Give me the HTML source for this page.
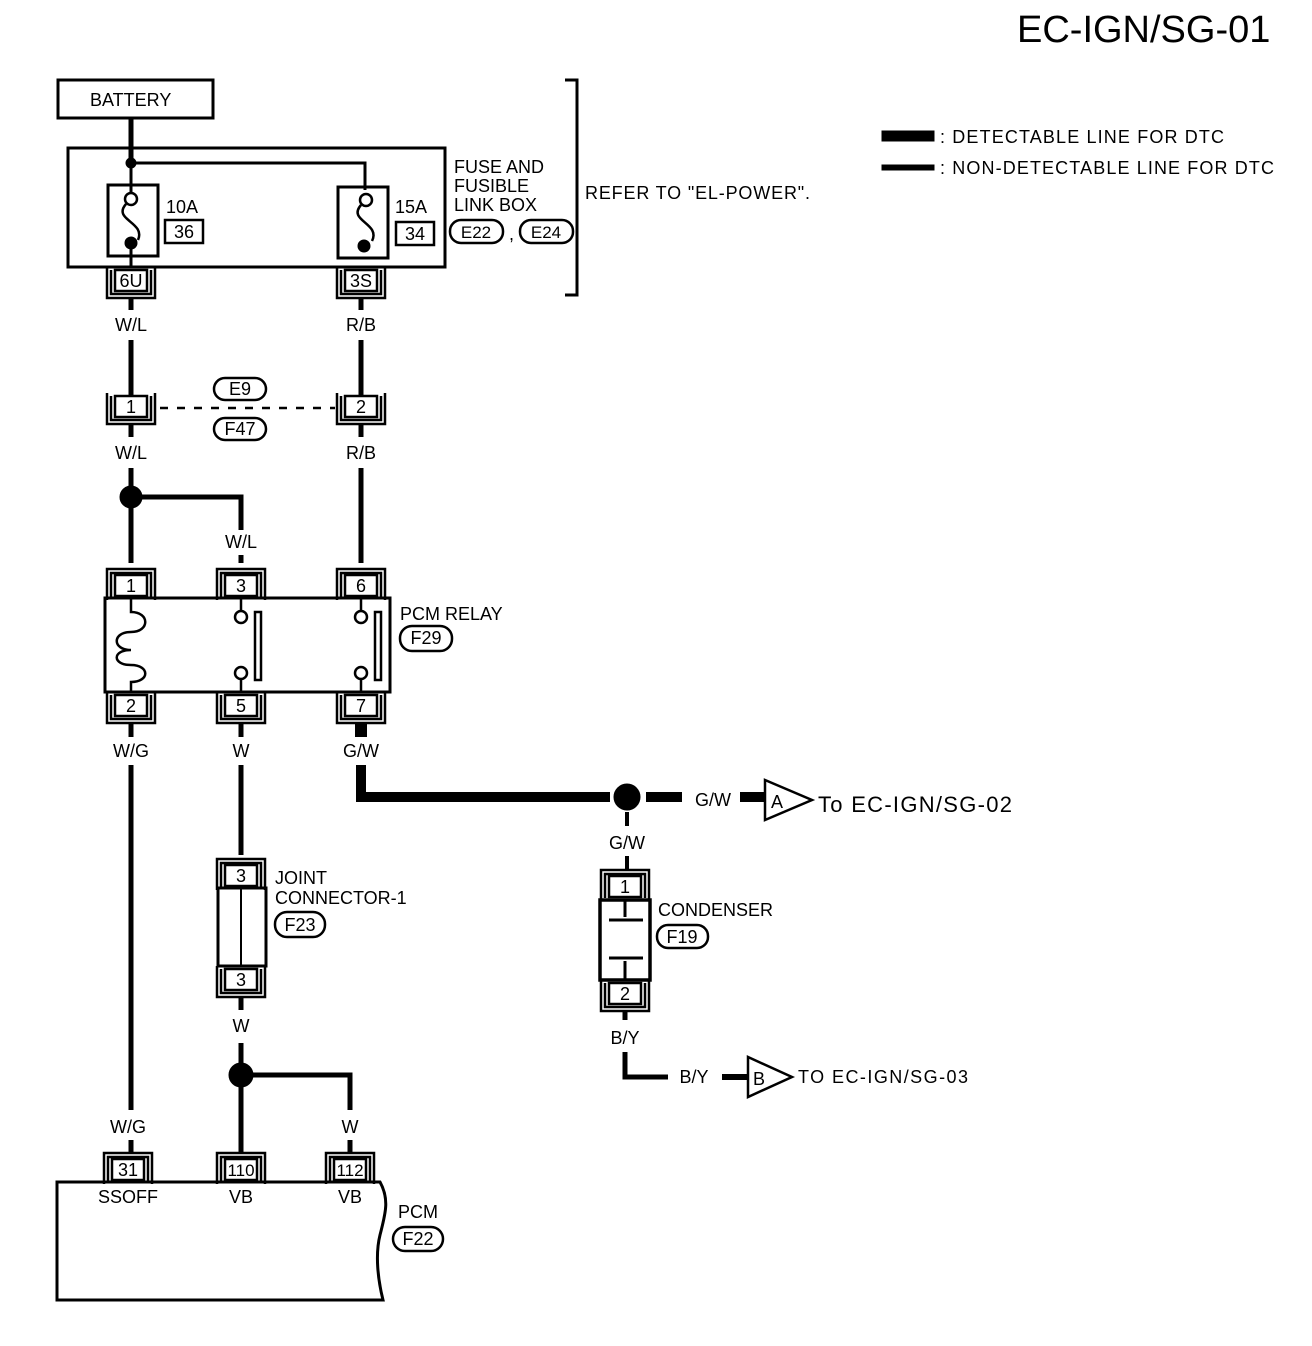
<!DOCTYPE html>
<html><head><meta charset="utf-8"><style>
html,body{margin:0;padding:0;background:#fff}
svg{display:block}
text{font-family:"Liberation Sans",sans-serif;fill:#000}
</style></head><body>
<svg width="1312" height="1346" viewBox="0 0 1312 1346" xmlns="http://www.w3.org/2000/svg">
<defs>
<g id="cd"><path d="M-24,-3V28H24V-3M-20,0V24H20V0" fill="none" stroke="#000" stroke-width="2.5"/><rect x="-16" y="0" width="32" height="21" fill="#fff" stroke="#000" stroke-width="2.5"/></g>
<g id="cu"><path d="M-24,25V-6H24V25M-20,22V-2H20V22" fill="none" stroke="#000" stroke-width="2.5"/><rect x="-16" y="0" width="32" height="21" fill="#fff" stroke="#000" stroke-width="2.5"/></g>
</defs>
<g fill="none" stroke="#000">
<text x="1017" y="42" font-size="38" stroke="none">EC-IGN/SG-01</text>
<rect x="882" y="131" width="52" height="10" fill="#000"/>
<rect x="882" y="165" width="52" height="5" fill="#000"/>
<rect x="58" y="80" width="155" height="38" stroke-width="3"/>
<line x1="131" y1="118" x2="131" y2="163" stroke-width="5"/>
<rect x="68" y="148" width="377" height="119" stroke-width="3"/>
<circle cx="131" cy="163" r="5" fill="#000"/>
<path d="M131,163H365V190" stroke-width="3"/>
<rect x="108" y="185" width="50" height="71" stroke-width="3"/>
<rect x="338" y="187" width="50" height="71" stroke-width="3"/>
<line x1="131" y1="163" x2="131" y2="192" stroke-width="3"/>
<circle cx="131" cy="199" r="6" fill="#fff" stroke-width="2.5"/>
<path d="M126,204C112,220 146,222 138,240" stroke-width="2.5"/>
<circle cx="131" cy="243" r="6" fill="#000"/>
<line x1="131" y1="249" x2="131" y2="268" stroke-width="3"/>
<circle cx="366" cy="200" r="6" fill="#fff" stroke-width="2.5"/>
<path d="M361,205C347,221 381,223 372,241" stroke-width="2.5"/>
<circle cx="364" cy="246" r="6" fill="#000"/>
<rect x="165" y="220" width="38" height="23" stroke-width="2.5"/>
<rect x="396" y="222" width="38" height="23" stroke-width="2.5"/>
<rect x="450" y="220" width="53" height="23" rx="11" stroke-width="2.5"/>
<rect x="520" y="220" width="53" height="23" rx="11" stroke-width="2.5"/>
<path d="M565,80H577V295H565" stroke-width="3"/>
<use href="#cd" x="131" y="270"/><use href="#cd" x="361" y="270"/>
<path d="M131,298V310M131,340V395M361,298V310M361,340V395" stroke-width="5"/>
<use href="#cd" x="131" y="396"/><use href="#cd" x="361" y="396"/>
<line x1="160" y1="408" x2="335" y2="408" stroke-width="2.5" stroke-dasharray="8,9"/>
<rect x="214" y="378" width="52" height="22" rx="11" stroke-width="2.5"/>
<rect x="214" y="418" width="52" height="22" rx="11" stroke-width="2.5"/>
<path d="M131,424V437M361,424V437M131,468V563M361,468V563M241,555V563" stroke-width="5"/>
<circle cx="131" cy="497" r="11" fill="#000"/>
<path d="M131,497H241V530" stroke-width="5"/>
<use href="#cu" x="131" y="575"/><use href="#cu" x="241" y="575"/><use href="#cu" x="361" y="575"/>
<rect x="105" y="598" width="285" height="94" stroke-width="3"/>
<path d="M131,598V612C150,612 150,632 131,632C112,632 112,650 131,650C112,650 112,665 131,665C150,665 150,682 131,682V692" stroke-width="2.5"/>
<line x1="241" y1="598" x2="241" y2="612" stroke-width="2.5"/><circle cx="241" cy="617" r="6" fill="#fff" stroke-width="2.5"/>
<line x1="241" y1="692" x2="241" y2="678" stroke-width="2.5"/><circle cx="241" cy="673" r="6" fill="#fff" stroke-width="2.5"/>
<rect x="255" y="612" width="6" height="68" stroke-width="2.5"/>
<line x1="361" y1="598" x2="361" y2="612" stroke-width="2.5"/><circle cx="361" cy="617" r="6" fill="#fff" stroke-width="2.5"/>
<line x1="361" y1="692" x2="361" y2="678" stroke-width="2.5"/><circle cx="361" cy="673" r="6" fill="#fff" stroke-width="2.5"/>
<rect x="375" y="612" width="6" height="68" stroke-width="2.5"/>
<rect x="400" y="626" width="52" height="25" rx="12" stroke-width="2.5"/>
<use href="#cd" x="131" y="695"/><use href="#cd" x="241" y="695"/><use href="#cd" x="361" y="695"/>
<path d="M131,723V737M241,723V737" stroke-width="5"/>
<rect x="355" y="723" width="12" height="14" fill="#000" stroke="none"/>
<path d="M131,765V1110M131,1140V1152" stroke-width="5"/>
<path d="M241,765V855" stroke-width="5"/>
<use href="#cu" x="241" y="865"/>
<rect x="218" y="888" width="48" height="78" stroke-width="3"/>
<path d="M241,888V966" stroke-width="2"/>
<use href="#cd" x="241" y="969"/>
<rect x="275" y="912" width="50" height="25" rx="12" stroke-width="2.5"/>
<path d="M241,997V1010M241,1043V1152M350,1140V1152" stroke-width="5"/>
<circle cx="241" cy="1075" r="12" fill="#000"/>
<path d="M241,1075H350V1110" stroke-width="5"/>
<path d="M57,1182H380C390,1200 385,1215 380,1235C375,1255 378,1280 383,1300H57Z" stroke-width="3" fill="#fff"/>
<use href="#cu" x="128" y="1159"/><use href="#cu" x="241" y="1159"/><use href="#cu" x="350" y="1159"/>
<rect x="393" y="1227" width="50" height="24" rx="12" stroke-width="2.5"/>
<path d="M361,765V797H610" stroke-width="10"/>
<circle cx="627" cy="797" r="13" fill="#000"/>
<path d="M646,797H682M740,797H765" stroke-width="10"/>
<path d="M765,780L812,800L765,820Z" stroke-width="2.5" fill="#fff"/>
<path d="M627,812V826M627,856V870" stroke-width="4"/>
<use href="#cu" x="625" y="876"/>
<rect x="600" y="900" width="50" height="80" stroke-width="3.5"/>
<path d="M625,900V917M609,920H643M609,958H643M625,961V980" stroke-width="3"/>
<use href="#cd" x="625" y="983"/>
<rect x="657" y="925" width="51" height="23" rx="11" stroke-width="2.5"/>
<path d="M625,1012V1020M625,1052V1077H668" stroke-width="5"/>
<path d="M722,1077H748" stroke-width="6"/>
<path d="M748,1057L792,1077L748,1097Z" stroke-width="2.5" fill="#fff"/>
</g>
<g font-size="18">
<text x="90" y="106">BATTERY</text>
<text x="166" y="213">10A</text>
<text x="395" y="213">15A</text>
<text x="184" y="238" text-anchor="middle">36</text>
<text x="415" y="240" text-anchor="middle">34</text>
<text x="454" y="173">FUSE AND</text>
<text x="454" y="192">FUSIBLE</text>
<text x="454" y="211">LINK BOX</text>
<text x="476" y="238" text-anchor="middle" font-size="17">E22</text>
<text x="509" y="240">,</text>
<text x="546" y="238" text-anchor="middle" font-size="17">E24</text>
<text x="585" y="199" textLength="225">REFER TO "EL-POWER".</text>
<text x="940" y="143" textLength="284">: DETECTABLE LINE FOR DTC</text>
<text x="940" y="174" textLength="334">: NON-DETECTABLE LINE FOR DTC</text>
<text x="131" y="287" text-anchor="middle">6U</text>
<text x="361" y="287" text-anchor="middle">3S</text>
<text x="131" y="331" text-anchor="middle">W/L</text>
<text x="361" y="331" text-anchor="middle">R/B</text>
<text x="131" y="413" text-anchor="middle">1</text>
<text x="361" y="413" text-anchor="middle">2</text>
<text x="240" y="395" text-anchor="middle">E9</text>
<text x="240" y="435" text-anchor="middle">F47</text>
<text x="131" y="459" text-anchor="middle">W/L</text>
<text x="361" y="459" text-anchor="middle">R/B</text>
<text x="241" y="548" text-anchor="middle">W/L</text>
<text x="131" y="592" text-anchor="middle">1</text>
<text x="241" y="592" text-anchor="middle">3</text>
<text x="361" y="592" text-anchor="middle">6</text>
<text x="400" y="620">PCM RELAY</text>
<text x="426" y="644" text-anchor="middle">F29</text>
<text x="131" y="712" text-anchor="middle">2</text>
<text x="241" y="712" text-anchor="middle">5</text>
<text x="361" y="712" text-anchor="middle">7</text>
<text x="131" y="757" text-anchor="middle">W/G</text>
<text x="241" y="757" text-anchor="middle">W</text>
<text x="361" y="757" text-anchor="middle">G/W</text>
<text x="241" y="882" text-anchor="middle">3</text>
<text x="275" y="884">JOINT</text>
<text x="275" y="904">CONNECTOR-1</text>
<text x="300" y="931" text-anchor="middle">F23</text>
<text x="241" y="986" text-anchor="middle">3</text>
<text x="241" y="1032" text-anchor="middle">W</text>
<text x="128" y="1133" text-anchor="middle">W/G</text>
<text x="350" y="1133" text-anchor="middle">W</text>
<text x="128" y="1176" text-anchor="middle">31</text>
<text x="241" y="1176" text-anchor="middle" font-size="17">110</text>
<text x="350" y="1176" text-anchor="middle" font-size="17">112</text>
<text x="128" y="1203" text-anchor="middle">SSOFF</text>
<text x="241" y="1203" text-anchor="middle">VB</text>
<text x="350" y="1203" text-anchor="middle">VB</text>
<text x="398" y="1218">PCM</text>
<text x="418" y="1245" text-anchor="middle">F22</text>
<text x="713" y="806" text-anchor="middle">G/W</text>
<text x="777" y="808" text-anchor="middle">A</text>
<text x="818" y="812" font-size="22" textLength="194">To EC-IGN/SG-02</text>
<text x="627" y="849" text-anchor="middle">G/W</text>
<text x="625" y="893" text-anchor="middle">1</text>
<text x="658" y="916">CONDENSER</text>
<text x="682" y="943" text-anchor="middle">F19</text>
<text x="625" y="1000" text-anchor="middle">2</text>
<text x="625" y="1044" text-anchor="middle">B/Y</text>
<text x="694" y="1083" text-anchor="middle">B/Y</text>
<text x="759" y="1085" text-anchor="middle">B</text>
<text x="798" y="1083" textLength="170">TO EC-IGN/SG-03</text>
</g>
</svg>
</body></html>
